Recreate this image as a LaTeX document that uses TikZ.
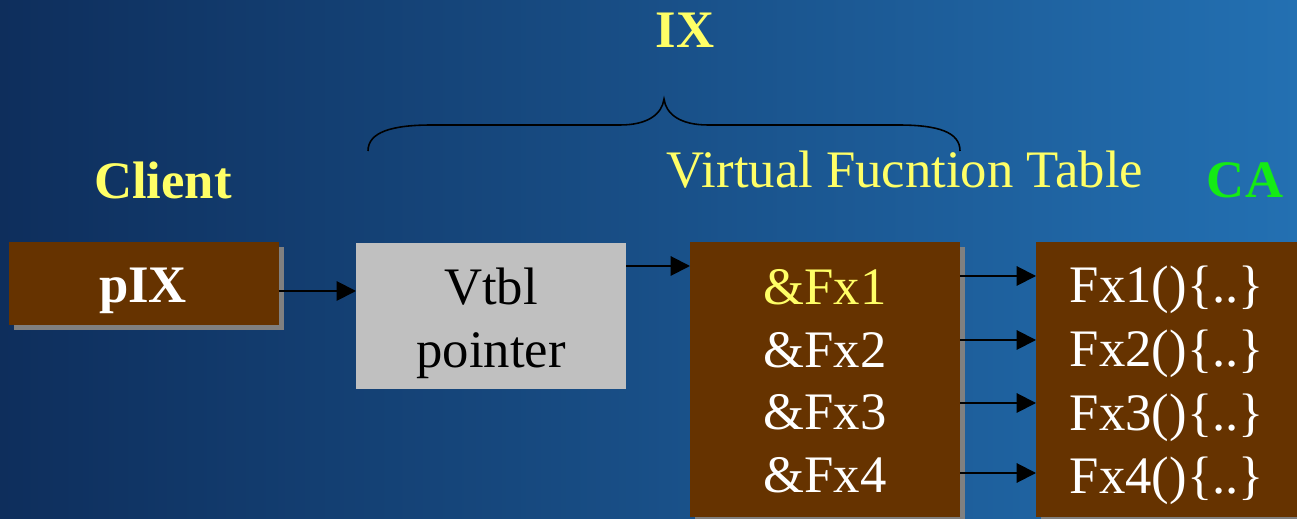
\documentclass[tikz,border=0pt]{standalone}
\usepackage{fontspec}
\setmainfont{Liberation Serif}
\usetikzlibrary{arrows.meta}
\usetikzlibrary{shadows}

\begin{document}
\begin{tikzpicture}[x=0.02cm,y=-0.02cm,
  box/.style={rectangle, inner sep=0pt, anchor=north west, minimum width=5.4cm},
  brownbox/.style={box, fill=BoxBrown, general shadow={fill=ShadowGray, shadow xshift=0.1cm, shadow yshift=-0.1cm}},
  greybox/.style={box, fill=BoxGray},
  txt/.style={anchor=base, inner sep=0pt, font=\fontsize{30}{36}\selectfont},
  arr/.style={-{Triangle[length=11pt,width=11pt]}, line width=1.1pt, black}]
\definecolor{BoxBrown}  {RGB}{102,51,0}
\definecolor{BoxGray}   {RGB}{192,192,192}
\definecolor{ShadowGray}{RGB}{128,128,128}
\definecolor{TitleYellow}{RGB}{255,255,102}
\definecolor{CAGreen}   {RGB}{20,235,20}
\definecolor{BgDark}    {RGB}{14,46,92}
\definecolor{BgLight}   {RGB}{35,112,178}

\useasboundingbox (0,0) rectangle (1297,519);
\clip (0,0) rectangle (1297,519);
\shade[left color=BgDark, right color=BgLight] (0,0) rectangle (1297,519);

% titles
\node[txt, TitleYellow] (ix) at (685,48) {\bfseries IX};
\node[txt, TitleYellow] (client) at (163,199) {\bfseries Client};
\node[txt, TitleYellow] (vft) at (905,188) {Virtual Fucntion Table};
\node[txt, CAGreen] (calabel) at (1245,198) {\bfseries CA};

% brace over vtbl pointer and table
\draw[black, line width=0.9pt] (368,151) .. controls (368,132) and (392,125) .. (432,125) -- (620,125)
  .. controls (648,125) and (662,114) .. (664,99)
  .. controls (666,114) and (680,125) .. (708,125) -- (898,125)
  .. controls (938,125) and (960,132) .. (960,151);

% boxes
\node[brownbox, minimum height=1.66cm] (pix) at (9,242) {};
\node[greybox, minimum height=2.92cm] (vtbl) at (356,243) {};
\node[brownbox, minimum height=5.5cm] (tbl) at (690,242) {};
\node[brownbox, minimum height=5.5cm] (ca) at (1036,242) {};

\node[txt, white] (pixtext) at (143,303) {\bfseries pIX};
\node[txt, black] (vtbltext) at (491,305) {Vtbl};
\node[txt, black] (ptrtext) at (491,368) {pointer};

\node[txt, TitleYellow] (fa1) at (825,305) {\&Fx1};
\node[txt, white] (fa2) at (825,368) {\&Fx2};
\node[txt, white] (fa3) at (825,430) {\&Fx3};
\node[txt, white] (fa4) at (825,493) {\&Fx4};

\node[txt, white] (fb1) at (1167,303) {Fx1()\{..\}};
\node[txt, white] (fb2) at (1167,367) {Fx2()\{..\}};
\node[txt, white] (fb3) at (1167,431) {Fx3()\{..\}};
\node[txt, white] (fb4) at (1167,494) {Fx4()\{..\}};

% arrows
\coordinate (p0) at (279,291);
\coordinate (v0) at (626,266);
\coordinate (a1) at (960,276);
\coordinate (a2) at (960,340);
\coordinate (a3) at (960,403);
\coordinate (a4) at (960,473);
\draw[arr] (p0) -- (p0 -| vtbl.west);
\draw[arr] (v0) -- (v0 -| tbl.west);
\draw[arr] (a1) -- (a1 -| ca.west);
\draw[arr] (a2) -- (a2 -| ca.west);
\draw[arr] (a3) -- (a3 -| ca.west);
\draw[arr] (a4) -- (a4 -| ca.west);

\end{tikzpicture}
\end{document}
